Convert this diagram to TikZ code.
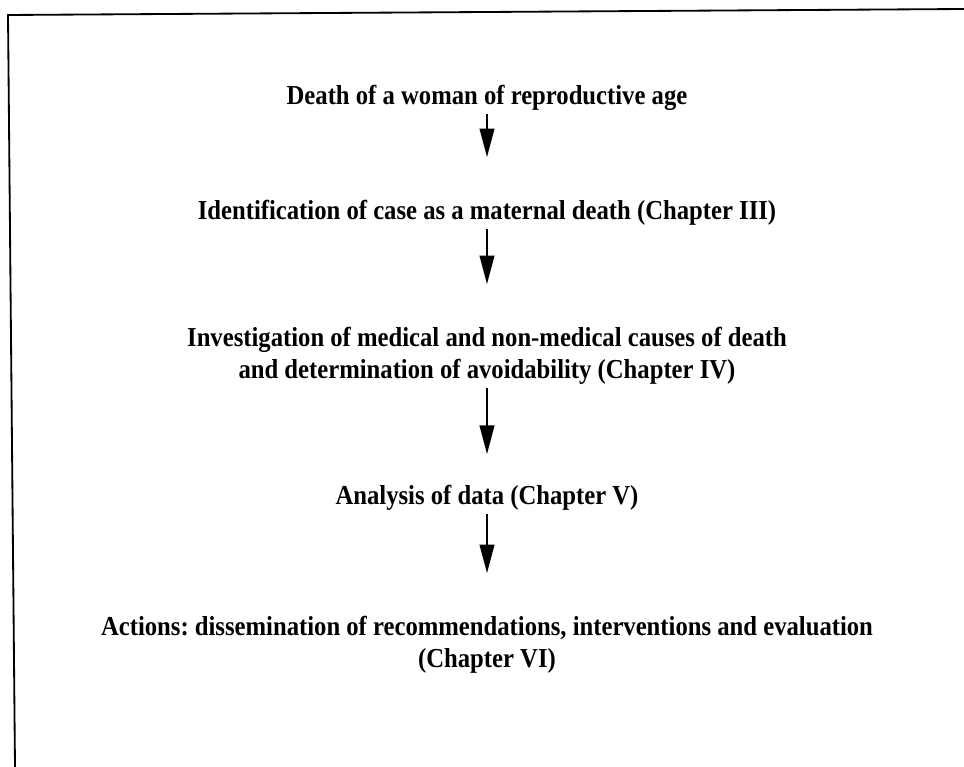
\documentclass[tikz,border=0pt]{standalone}
\usepackage{fontspec}
\setmainfont{Liberation Serif}[FakeStretch=0.9]
\usepackage{tikz}
\usetikzlibrary{arrows.meta, positioning}
\frenchspacing

\begin{document}
\begin{tikzpicture}[
  stepnode/.style={font=\fontsize{19.5}{22.7}\selectfont\bfseries, align=center, inner sep=2pt},
  flowarrow/.style={line width=2pt, -{Triangle[length=0.72cm, width=0.36cm]}, shorten >=1.0cm},
  framerule/.style={line width=1.3pt, line cap=round},
]
  \useasboundingbox (0,0) rectangle (24.1,-19.175);

  % Frame
  \coordinate (topleft) at (0.2,-0.375);
  \coordinate (topright) at (24.1,-0.225);
  \coordinate (bottomleft) at (0.375,-19.175);
  \draw[framerule] (topright) -- (topleft) -- (bottomleft);

  % Steps
  \node[stepnode] (death) at (12.175,-2.45) {Death of a woman of reproductive age};
  \node[stepnode] (ident) at (12.175,-5.325) {Identification of case as a maternal death (Chapter III)};
  \node[stepnode] (invest) at (12.175,-8.9) {Investigation of medical and non-medical causes of death\\and determination of avoidability (Chapter IV)};
  \node[stepnode] (analysis) at (12.175,-12.45) {Analysis of data (Chapter V)};
  \node[stepnode] (actions) at (12.175,-16.125) {Actions: dissemination of recommendations, interventions and evaluation\\(Chapter VI)};

  % Arrows
  \draw[flowarrow] (death) -- (ident);
  \draw[flowarrow] (ident) -- (invest);
  \draw[flowarrow, shorten >=0.7cm] (invest) -- (analysis);
  \draw[flowarrow] (analysis) -- (actions);
\end{tikzpicture}
\end{document}
